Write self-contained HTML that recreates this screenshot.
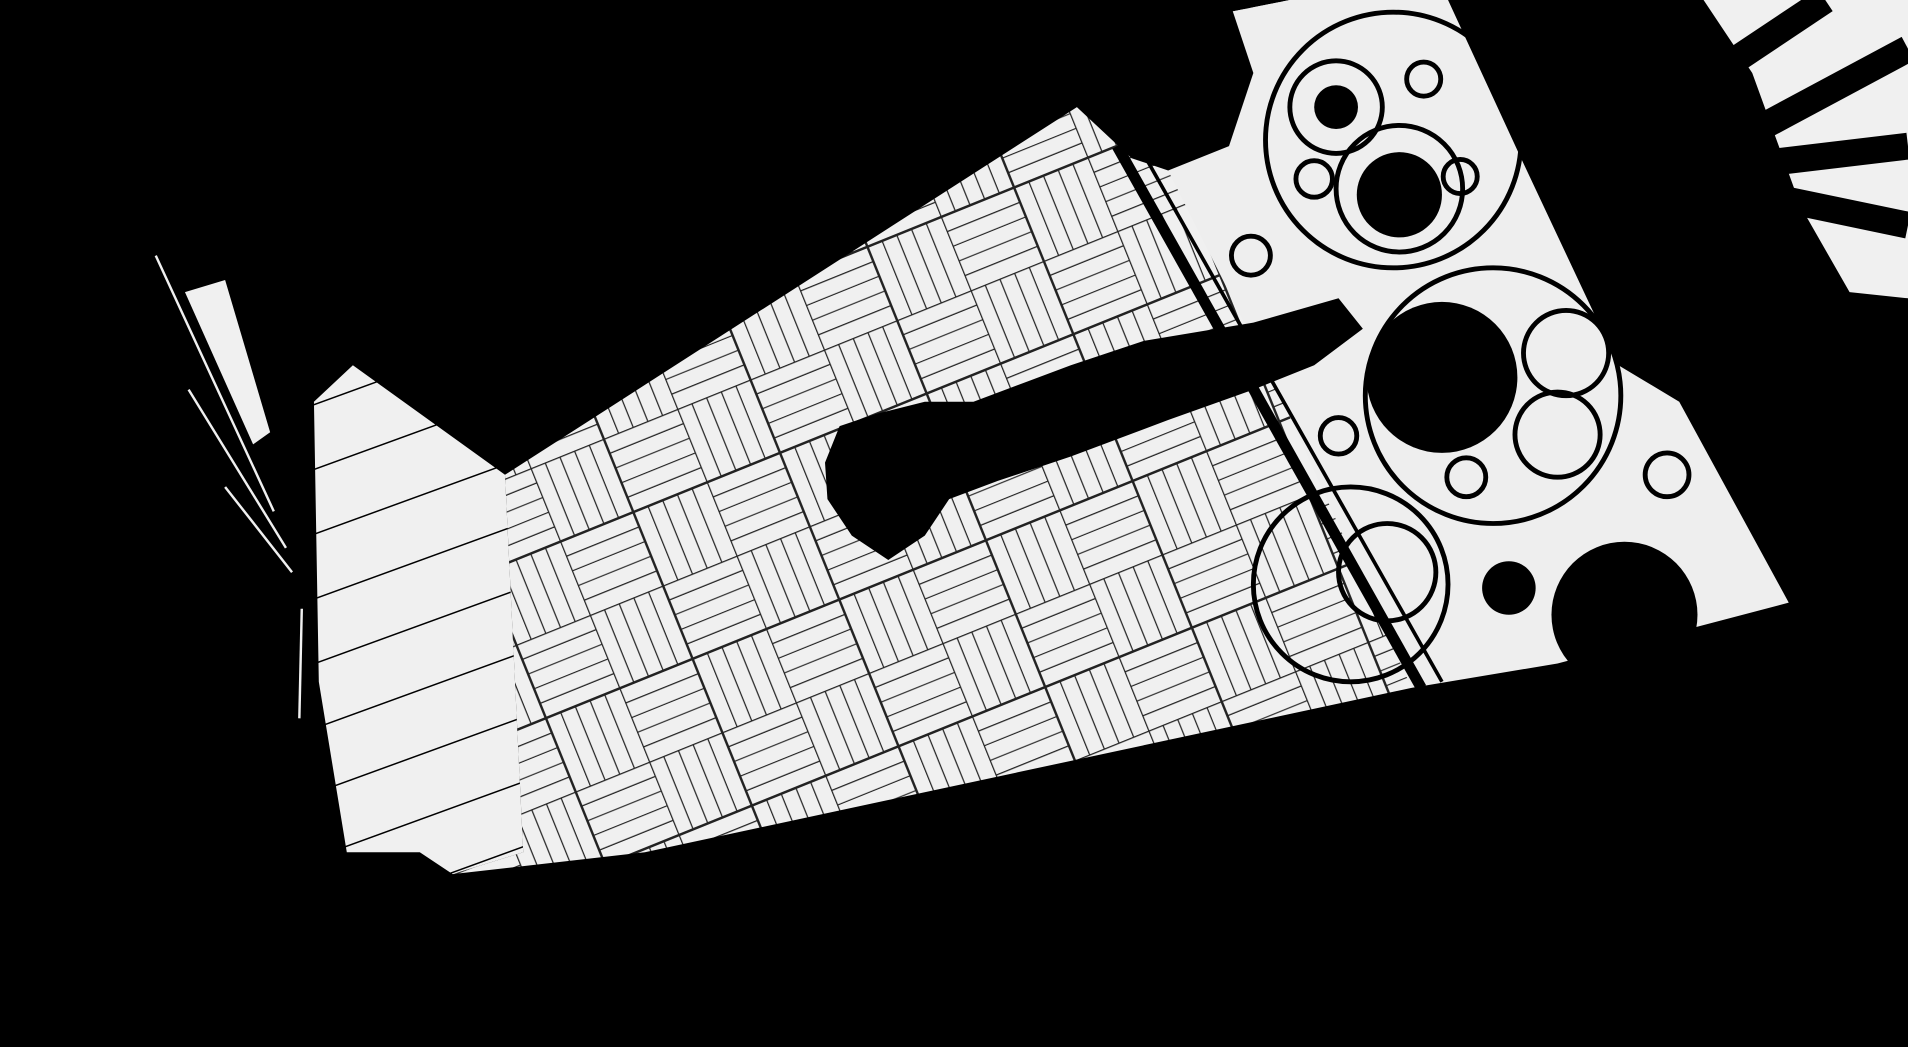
<!DOCTYPE html>
<html><head><meta charset="utf-8"><style>
html,body{margin:0;padding:0;background:#000;width:1908px;height:1047px;overflow:hidden}
svg{display:block}
</style></head><body>
<svg width="1908" height="1047" viewBox="0 0 1568 860" preserveAspectRatio="none" xmlns="http://www.w3.org/2000/svg">
<defs>
<pattern id="tiles" width="130" height="130" patternUnits="userSpaceOnUse" patternTransform="rotate(-22)">
<rect width="130" height="130" fill="#f0f0f0"/>
<g stroke="#222" stroke-width="1">
<line x1="0" y1="0" x2="130" y2="0" stroke-width="2"/><line x1="0" y1="0" x2="0" y2="130" stroke-width="2"/>
<line x1="65" y1="0" x2="65" y2="130" stroke-width="2"/><line x1="0" y1="65" x2="130" y2="65" stroke-width="2"/>
<line x1="13" y1="0" x2="13" y2="65"/><line x1="26" y1="0" x2="26" y2="65"/><line x1="39" y1="0" x2="39" y2="65"/><line x1="52" y1="0" x2="52" y2="65"/>
<line x1="65" y1="13" x2="130" y2="13"/><line x1="65" y1="26" x2="130" y2="26"/><line x1="65" y1="39" x2="130" y2="39"/><line x1="65" y1="52" x2="130" y2="52"/>
<line x1="0" y1="78" x2="65" y2="78"/><line x1="0" y1="91" x2="65" y2="91"/><line x1="0" y1="104" x2="65" y2="104"/><line x1="0" y1="117" x2="65" y2="117"/>
<line x1="78" y1="65" x2="78" y2="130"/><line x1="91" y1="65" x2="91" y2="130"/><line x1="104" y1="65" x2="104" y2="130"/><line x1="117" y1="65" x2="117" y2="130"/>
</g></pattern>
<pattern id="planks" width="50" height="50" patternUnits="userSpaceOnUse" patternTransform="rotate(-20)">
<rect width="50" height="50" fill="#f0f0f0"/><line x1="0" y1="0" x2="50" y2="0" stroke="#000" stroke-width="2.5"/>
</pattern>
</defs>
<rect width="1568" height="860" fill="#000"/>
<polygon points="152,240 185,230 222,355 208,365" fill="#f0f0f0"/>
<polygon points="258,330 290,300 415,390 430,700 372,718 345,700 285,700 262,560" fill="url(#planks)"/>
<polygon points="415,390 885,88 930,130 1010,10 1060,0 1190,0 1160,565 530,700 372,718 430,700" fill="url(#tiles)"/>
<polygon points="1010,10 1060,0 1190,0 1250,130 1330,300 1380,330 1470,495 1280,545 1160,565 1050,320 960,140" fill="#eee"/>
<g fill="none" stroke="#000" stroke-width="4">
<circle cx="1145" cy="115" r="105"/><circle cx="1150" cy="155" r="52"/>
<circle cx="1227" cy="325" r="105"/><circle cx="1287" cy="290" r="35"/><circle cx="1280" cy="357" r="35"/>
<circle cx="1098" cy="88" r="38"/><circle cx="1080" cy="147" r="15"/><circle cx="1170" cy="65" r="14"/><circle cx="1200" cy="145" r="14"/>
<circle cx="1205" cy="392" r="16"/><circle cx="1028" cy="210" r="16"/><circle cx="1100" cy="358" r="15"/>
<circle cx="1110" cy="480" r="80"/><circle cx="1140" cy="470" r="40"/>
<circle cx="1370" cy="390" r="18"/>
</g>
<g fill="#000">
<circle cx="1150" cy="160" r="35"/><circle cx="1098" cy="88" r="18"/>
<circle cx="1185" cy="310" r="62"/><circle cx="1240" cy="483" r="22"/>
<circle cx="1335" cy="505" r="60"/>
<path d="M940,0 L1010,0 1030,60 1010,120 960,140 930,130 Z"/>
</g>
<line x1="918" y1="120" x2="1168" y2="565" stroke="#000" stroke-width="9"/>
<line x1="935" y1="118" x2="1185" y2="560" stroke="#000" stroke-width="3"/>
<path d="M690,350 L720,340 760,330 800,330 880,300 940,280 1030,265 1100,245 1120,270 1080,300 1030,320 960,345 880,375 820,395 780,410 760,440 730,460 700,440 680,410 678,380 Z" fill="#000"/>
<polygon points="1400,0 1568,0 1568,245 1520,240 1480,170 1440,60" fill="#f0f0f0"/>
<g stroke="#000" stroke-width="22">
<line x1="1400" y1="130" x2="1568" y2="40"/><line x1="1400" y1="140" x2="1568" y2="120"/>
<line x1="1400" y1="150" x2="1568" y2="185"/><line x1="1410" y1="60" x2="1500" y2="0"/>
</g>
<g stroke="#f0f0f0" stroke-width="2">
<line x1="128" y1="210" x2="225" y2="420"/><line x1="155" y1="320" x2="235" y2="450"/>
<line x1="185" y1="400" x2="240" y2="470"/><line x1="248" y1="500" x2="246" y2="590"/>
</g>
</svg>
</body></html>
